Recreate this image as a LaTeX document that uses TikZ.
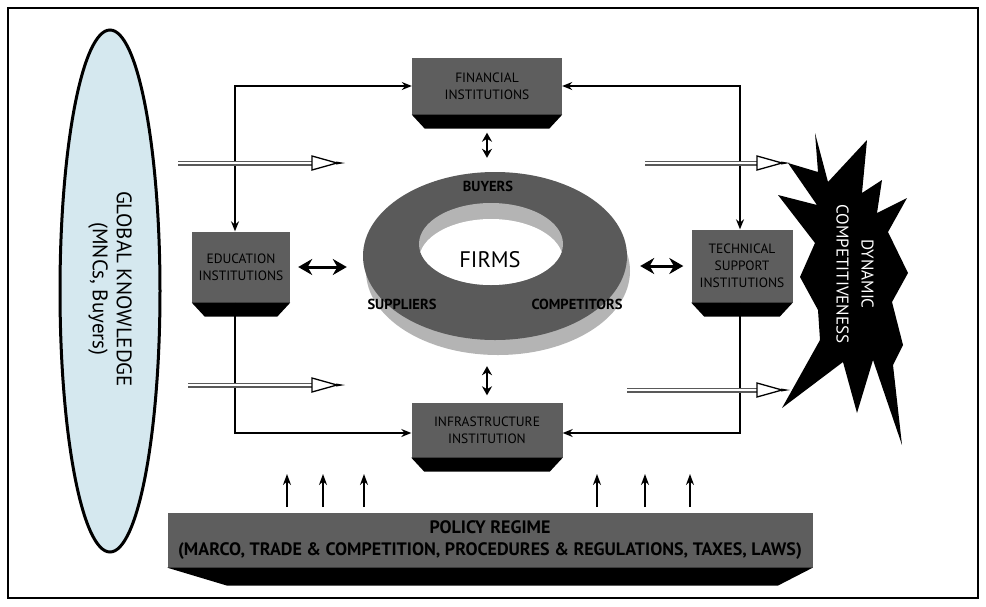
\documentclass[tikz,border=0pt]{standalone}
\usepackage{fontspec}
\setmainfont{PT Sans}
\usetikzlibrary{arrows.meta,shapes.geometric}
\definecolor{boxgray}{HTML}{5E5E5E}
\definecolor{ringdark}{HTML}{5A5A5A}
\definecolor{ringlight}{HTML}{B4B4B4}
\definecolor{knowblue}{HTML}{D5E8EF}
\tikzset{
  inst/.style={fill=boxgray, inner sep=2pt, align=center, font=\fontsize{13.5}{17}\selectfont},
  conn/.style={line width=1.3pt},
  dblh/.style={line width=3pt, {Stealth[length=14pt,width=16pt]}-{Stealth[length=14pt,width=16pt]}},
  dblv/.style={line width=1.8pt, {Stealth[length=9pt,width=10pt]}-{Stealth[length=9pt,width=10pt]}},
  hollow/.style={draw=black!65, line width=1.1pt, double=white, double distance=2.8pt},
  uparrow/.style={line width=2.2pt, -{Stealth[length=11pt,width=8pt]}},
  ringlabel/.style={font=\bfseries\fontsize{14.5}{16}\selectfont},
}
\begin{document}
\begin{tikzpicture}[x=1pt,y=-1pt,>={Stealth[length=10pt,width=8pt]}]
\useasboundingbox (0,0) rectangle (986,606);
\fill[white] (0,0) rectangle (986,606);
\draw[line width=1.3pt] (8,8) rectangle (978,598);
% global knowledge
\draw[line width=3pt, fill=knowblue] (110,291) ellipse [x radius=50pt, y radius=261pt];
\node[rotate=-90, align=center, font=\fontsize{21}{24}\selectfont] (glob) at (110,289) {GLOBAL KNOWLEDGE\\(MNCs, Buyers)};
% institutions
\node[inst, minimum width=150pt, minimum height=57pt] (fin) at (487,86) {FINANCIAL\\INSTITUTIONS};
\node[inst, minimum width=98pt, minimum height=71pt] (edu) at (241,267) {EDUCATION\\INSTITUTIONS};
\node[inst, minimum width=101pt, minimum height=73pt] (tech) at (742,266) {TECHNICAL\\SUPPORT\\INSTITUTIONS};
\node[inst, minimum width=151pt, minimum height=55pt] (infra) at (487,430) {INFRASTRUCTURE\\INSTITUTION};
\node[inst, minimum width=645pt, minimum height=55pt, font=\bfseries\fontsize{18}{22}\selectfont] (policy) at (490,540)
  {POLICY REGIME\\(MARCO, TRADE \& COMPETITION, PROCEDURES \& REGULATIONS, TAXES, LAWS)};
\foreach \n in {fin,edu,tech,infra}
  \fill (\n.south west) -- (\n.south east) -- ([xshift=-13pt,yshift=-14pt]\n.south east) -- ([xshift=13pt,yshift=-14pt]\n.south west) -- cycle;
\fill (policy.south west) -- (policy.south east) -- ([xshift=-35pt,yshift=-18pt]policy.south east) -- ([xshift=60pt,yshift=-18pt]policy.south west) -- cycle;
% firms ring
\node[ellipse, minimum width=264pt, minimum height=168pt, inner sep=0pt] (ring) at (495,256) {};
\fill[ringlight] (498,271) ellipse [x radius=132pt, y radius=84pt];
\fill[ringdark] (495,256) ellipse [x radius=132pt, y radius=84pt];
\fill[ringlight] (491,244) ellipse [x radius=72pt, y radius=41pt];
\begin{scope}
  \clip (491,244) ellipse [x radius=72pt, y radius=41pt];
  \fill[white] (491,260) ellipse [x radius=72pt, y radius=41pt];
\end{scope}
\node[font=\fontsize{22.5}{26}\selectfont] (firms) at (490,260) {FIRMS};
\node[ringlabel] (buy) at (488,186) {BUYERS};
\node[ringlabel] (sup) at (402,304) {SUPPLIERS};
\node[ringlabel] (comp) at (577,304) {COMPETITORS};
% links
\draw[conn,<->] (fin.west) -| ([xshift=-6pt]edu.north);
\draw[conn,<->] (fin.east) -| ([xshift=-2pt]tech.north);
\draw[conn,->] ([xshift=-6pt]edu.south) |- ([yshift=-3pt]infra.west);
\draw[conn,->] ([xshift=-2pt]tech.south) |- ([yshift=-3pt]infra.east);
\draw[dblh, shorten <=8pt, shorten >=16pt] (edu.east) -- (edu.east -| ring.west);
\draw[dblh, shorten <=13pt, shorten >=8pt] (ring.east |- tech.west) -- (tech.west);
\draw[dblv, shorten <=18pt, shorten >=14pt] (fin.south) -- (fin.south |- ring.north);
\draw[dblv, shorten <=26pt, shorten >=7pt] (infra.north |- ring.south) -- (infra.north);
% hollow arrows
\coordinate (h1a) at (178,163); \coordinate (h1b) at (345,163);
\coordinate (h2a) at (188,385); \coordinate (h2b) at (345,385);
\coordinate (h3a) at (645,163); \coordinate (h3b) at (790,163);
\coordinate (h4a) at (627,390); \coordinate (h4b) at (790,390);
\foreach \a/\b in {h1a/h1b,h2a/h2b,h3a/h3b,h4a/h4b}{
  \draw[hollow] (\a) -- ([xshift=-33pt]\b);
  \filldraw[fill=white, line width=1.3pt, line join=miter] ([xshift=-33pt,yshift=7pt]\b) -- ([xshift=-8pt]\b) -- ([xshift=-33pt,yshift=-7pt]\b) -- cycle;
  \fill ([xshift=-9pt,yshift=1.5pt]\b) -- (\b) -- ([xshift=-9pt,yshift=-1.5pt]\b) -- cycle;
}
% policy arrows
\foreach \x in {287,323,364,597,645,690}
  \draw[uparrow] (\x,507) -- (\x,474);
% dynamic competitiveness
\fill (815,133) -- (828,182) -- (867,140) -- (862,193) -- (882,180) -- (877,213) -- (907,198) -- (888,232)
  -- (908,273) -- (892,302) -- (903,345) -- (893,365) -- (902,445) -- (873,360) -- (857,413) -- (843,362)
  -- (782,408) -- (820,340) -- (818,310) -- (800,277) -- (815,243) -- (778,195) -- (817,205) -- (788,163)
  -- (818,172) -- cycle;
\node[rotate=-90, align=center, text=white, font=\fontsize{17}{25}\selectfont] (dyn) at (855,274) {DYNAMIC\\COMPETITIVENESS};
\end{tikzpicture}
\end{document}
